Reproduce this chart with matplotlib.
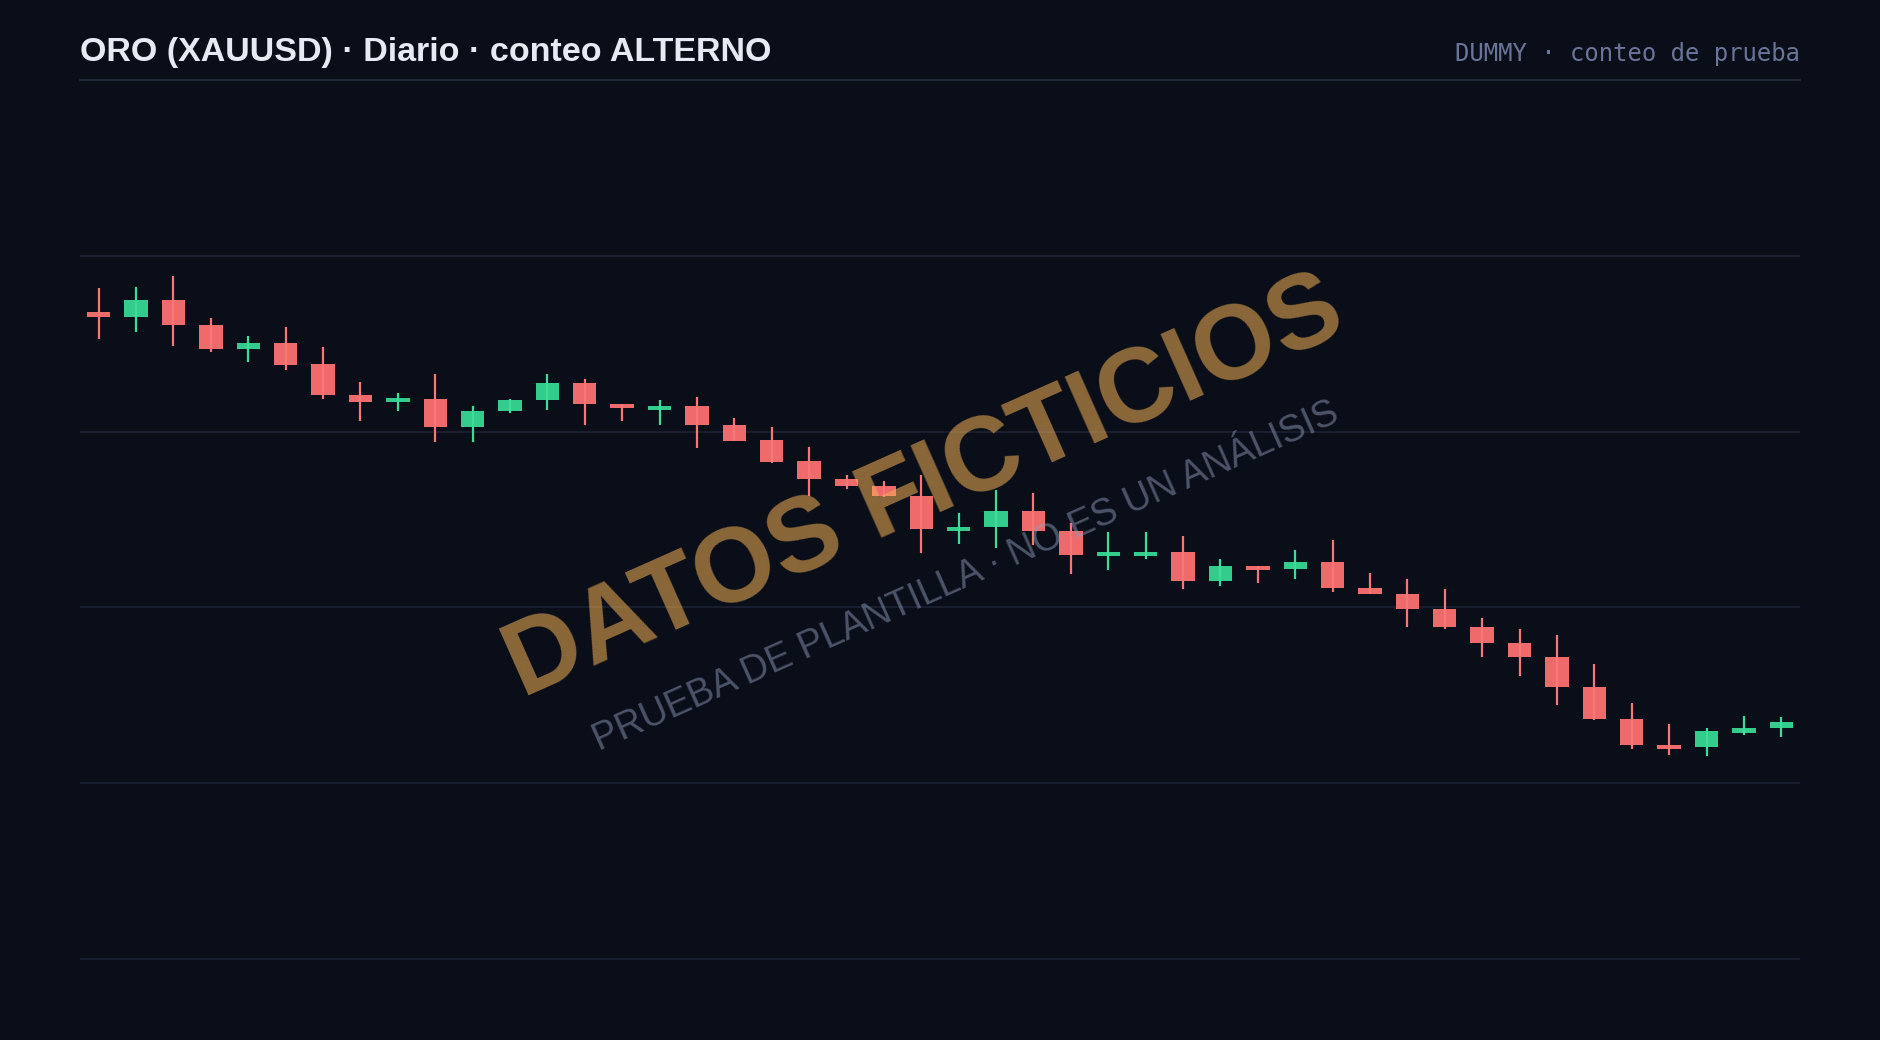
import matplotlib
matplotlib.use("Agg")
import matplotlib.pyplot as plt
from matplotlib.lines import Line2D
import numpy as np

# ---- data ----
opens  = [2434.0, 2432.6, 2437.5, 2430.4, 2423.4, 2425.2, 2419.1, 2410.4, 2408.3, 2409.4,
          2401.4, 2405.9, 2409.0, 2413.9, 2407.8, 2406.1, 2407.3, 2401.9, 2397.6, 2391.5,
          2386.5, 2384.5, 2381.7, 2371.7, 2372.9, 2377.4, 2371.7, 2364.6, 2364.6, 2365.7,
          2357.6, 2361.7, 2360.9, 2362.9, 2355.4, 2353.8, 2349.5, 2344.3, 2339.8, 2335.9,
          2327.5, 2318.4, 2310.8, 2310.2, 2314.4, 2315.7]
highs  = [2440.7, 2441.0, 2444.2, 2432.4, 2427.2, 2429.7, 2424.1, 2414.1, 2410.9, 2416.3,
          2407.3, 2409.4, 2416.4, 2415.1, 2407.8, 2408.9, 2409.8, 2403.8, 2401.2, 2395.5,
          2387.6, 2386.0, 2387.6, 2376.8, 2383.4, 2382.4, 2373.9, 2371.4, 2371.4, 2370.4,
          2363.9, 2361.7, 2366.3, 2369.2, 2359.8, 2358.0, 2355.2, 2346.9, 2343.8, 2342.1,
          2333.9, 2322.7, 2316.8, 2315.6, 2319.1, 2318.8]
lows   = [2426.3, 2428.4, 2424.3, 2422.6, 2419.9, 2417.5, 2409.2, 2403.1, 2405.8, 2397.0,
          2397.0, 2405.3, 2406.1, 2402.0, 2403.0, 2401.8, 2395.4, 2397.3, 2391.1, 2381.7,
          2383.8, 2381.3, 2365.6, 2367.9, 2366.9, 2367.7, 2359.4, 2360.5, 2363.7, 2355.1,
          2356.1, 2356.8, 2358.1, 2354.4, 2353.7, 2344.4, 2343.9, 2335.9, 2330.5, 2322.2,
          2317.9, 2309.8, 2307.9, 2307.8, 2313.7, 2313.0]
closes = [2432.7, 2437.5, 2430.4, 2423.4, 2425.2, 2419.0, 2410.3, 2408.3, 2409.5, 2401.4,
          2405.9, 2408.9, 2413.9, 2407.8, 2406.6, 2407.3, 2401.8, 2397.4, 2391.4, 2386.5,
          2384.4, 2381.6, 2372.4, 2372.9, 2377.4, 2371.7, 2364.8, 2365.8, 2365.8, 2357.6,
          2361.7, 2360.5, 2362.9, 2355.4, 2353.9, 2349.5, 2344.3, 2339.9, 2335.9, 2327.5,
          2318.3, 2310.8, 2309.6, 2314.8, 2315.6, 2317.3]
grid_levels = [2250, 2300, 2350, 2400, 2450]

title = "ORO (XAUUSD) · Diario · conteo ALTERNO"
subtitle = "DUMMY · conteo de prueba"
wm_main = "DATOS FICTICIOS"
wm_sub = "PRUEBA DE PLANTILLA · NO ES UN ANÁLISIS"

# ---- style ----
BG = "#0a0e18"
GRID = "#1b2233"
UP_BODY, UP_WICK = "#33cc8c", "#3ddc97"
DN_BODY, DN_WICK = "#ef6b6b", "#f87676"

W, H = 1880, 1040
fig = plt.figure(figsize=(W / 100, H / 100), dpi=100, facecolor=BG)

ax = fig.add_axes([80 / W, 1 - 1020 / H, 1720 / W, 940 / H])
ax.set_facecolor(BG)
for s in ax.spines.values():
    s.set_visible(False)

n = len(opens)
x = np.arange(n)
o = np.array(opens); c = np.array(closes)
hi = np.array(highs); lo = np.array(lows)
up = c >= o
body_lo = np.minimum(o, c)
body_h = np.maximum(np.abs(c - o), 1.0)
colors_body = np.where(up, UP_BODY, DN_BODY)
colors_wick = np.where(up, UP_WICK, DN_WICK)

ax.bar(x, body_h, bottom=body_lo, width=0.625, color=colors_body, zorder=3, linewidth=0)
ax.vlines(x, lo, hi, colors=colors_wick, linewidth=1.6, zorder=4)

ax.set_xlim(-0.5, n - 0.5)
ax.set_ylim(2500 - 940 / 3.516, 2500)
ax.set_yticks(grid_levels)
ax.set_xticks([])
ax.grid(axis="y", color=GRID, linewidth=1.2, zorder=0)
ax.tick_params(left=False, labelleft=False, bottom=False, labelbottom=False)

# header
fig.text(80 / W, 1 - 61 / H, title, fontsize=24.5, fontweight="bold",
         family="Liberation Sans", color="#e6eaf2", va="baseline", ha="left")
fig.text(1800 / W, 1 - 61 / H, subtitle, fontsize=17.2, family="DejaVu Sans Mono",
         color="#69769a", va="baseline", ha="right")
fig.add_artist(Line2D([80 / W, 1800 / W], [1 - 80 / H, 1 - 80 / H],
                      color="#1e2638", linewidth=1.5))

# watermark
fig.text(924.5 / W, 1 - 489 / H, wm_main, fontsize=75.5, fontweight="bold",
         family="Liberation Sans", color="#f4b256", alpha=0.55, rotation=24,
         ha="center", va="center", zorder=10)
fig.text(966 / W, 1 - 577 / H, wm_sub, fontsize=27, family="Liberation Sans",
         color="#8b9ab8", alpha=0.5, rotation=24, ha="center", va="center", zorder=10)

fig.savefig("out.png", dpi=100, facecolor=BG)
